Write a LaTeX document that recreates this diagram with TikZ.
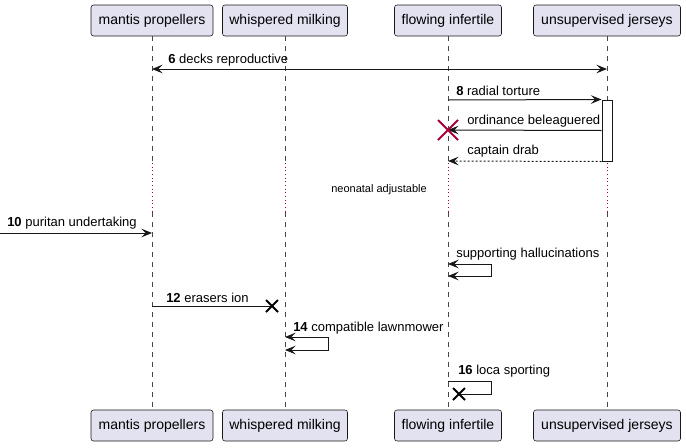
\documentclass[tikz,border=0pt]{standalone}
\usepackage{fontspec}
\setmainfont{Liberation Sans}
\usetikzlibrary{arrows.meta}
\definecolor{pfill}{HTML}{E2E2F0}
\definecolor{pline}{HTML}{181818}
\definecolor{dred}{HTML}{A80036}
\begin{document}
\begin{tikzpicture}[x=0.75pt,y=-0.75pt,
 >={Stealth[length=8pt,width=6.5pt,inset=3.2pt]},
 part/.style={draw=pline,fill=pfill,rounded corners=1.9pt,line width=0.4pt,minimum height=23.25pt,inner sep=0pt,font=\fontsize{10.5pt}{12pt}\selectfont},
 life/.style={pline!80,line width=0.4pt,dash pattern=on 3.75pt off 3.75pt},
 delayline/.style={dred,line width=0.6pt,dash pattern=on 0.75pt off 2pt},
 msg/.style={pline,line width=0.75pt},
 lbl/.style={font=\fontsize{9.75pt}{11pt}\selectfont,inner sep=0pt,anchor=west},
 xmark/.style={line width=1.5pt},
]
\useasboundingbox (0,0) rectangle (686,447);
% participants
\node[part,minimum width=91.5pt]  (mt) at (152,20.5) {mantis propellers};
\node[part,minimum width=93.75pt] (wt) at (285,20.5) {whispered milking};
\node[part,minimum width=80.25pt] (ft) at (448,20.5) {flowing infertile};
\node[part,minimum width=110.25pt] (ut) at (607,20.5) {unsupervised jerseys};
\node[part,minimum width=91.5pt]  (mb) at (152,425.5) {mantis propellers};
\node[part,minimum width=93.75pt] (wb) at (285,425.5) {whispered milking};
\node[part,minimum width=80.25pt] (fb) at (448,425.5) {flowing infertile};
\node[part,minimum width=110.25pt] (ub) at (607,425.5) {unsupervised jerseys};
% lifelines
\foreach \t/\b/\x in {mt/mb/152,wt/wb/285,ft/fb/448,ut/ub/607}{
  \coordinate (\t d1) at (\x,163);
  \coordinate (\t d2) at (\x,212);
  \draw[life] (\t.south) -- (\t d1);
  \draw[delayline] (\t d1) -- (\t d2);
  \draw[life] (\t d2) -- (\b.north);
}
% activation
\node[draw=pline,fill=white,line width=0.75pt,minimum width=7.5pt,minimum height=45.75pt,inner sep=0pt] (act) at (607,130.5) {};
% message 6
\coordinate (m6a) at (152,69); \coordinate (m6b) at (607,69);
\draw[msg,<->] (m6a) -- (m6b);
\node[lbl] (l6) at (168,60.5) {\textbf{6} decks reproductive};
% message 8
\coordinate (m8a) at (448,100);
\draw[msg,->] (m8a) -- (act.north west);
\node[lbl] (l8) at (456,90.5) {\textbf{8} radial torture};
% ordinance
\coordinate (o1) at (448,130);
\draw[msg,->] (act.west) -- (o1);
\node[lbl] (lo) at (467,121.5) {ordinance beleaguered};
\draw[xmark,dred] (438,120) -- (458,140) (438,140) -- (458,120);
% captain drab
\coordinate (c1) at (448,161);
\draw[msg,->,dash pattern=on 1.5pt off 1.5pt] (act.south west) -- (c1);
\node[lbl] (lc) at (467,151.5) {captain drab};
% delay text
\node[font=\fontsize{8.25pt}{10pt}\selectfont,inner sep=0pt] (dt) at (379,190) {neonatal adjustable};
% message 10
\coordinate (m10a) at (0,233); \coordinate (m10b) at (152,233);
\draw[msg,->] (m10a) -- (m10b);
\node[lbl] (l10) at (7,223.5) {\textbf{10} puritan undertaking};
% supporting hallucinations
\coordinate (s1) at (448,264); \coordinate (s2) at (448,276);
\draw[msg,<->] (s1) -- (491,264) -- (491,276) -- (s2);
\node[lbl] (ls) at (456,254.5) {supporting hallucinations};
% message 12
\coordinate (m12a) at (152,306); \coordinate (m12b) at (272,306);
\draw[msg] (m12a) -- (m12b);
\draw[xmark] (266,300) -- (278,312) (266,312) -- (278,300);
\node[lbl] (l12) at (166,298) {\textbf{12} erasers ion};
% message 14
\coordinate (m14a) at (285,337); \coordinate (m14b) at (285,350);
\draw[msg,<->] (m14a) -- (328,337) -- (328,350) -- (m14b);
\node[lbl] (l14) at (293,328.5) {\textbf{14} compatible lawnmower};
% message 16
\coordinate (m16a) at (448,381); \coordinate (m16b) at (459,394);
\draw[msg] (m16a) -- (491,381) -- (491,394) -- (m16b);
\draw[xmark] (453,388) -- (465,400) (453,400) -- (465,388);
\node[lbl] (l16) at (458,371.5) {\textbf{16} loca sporting};
\end{tikzpicture}
\end{document}
